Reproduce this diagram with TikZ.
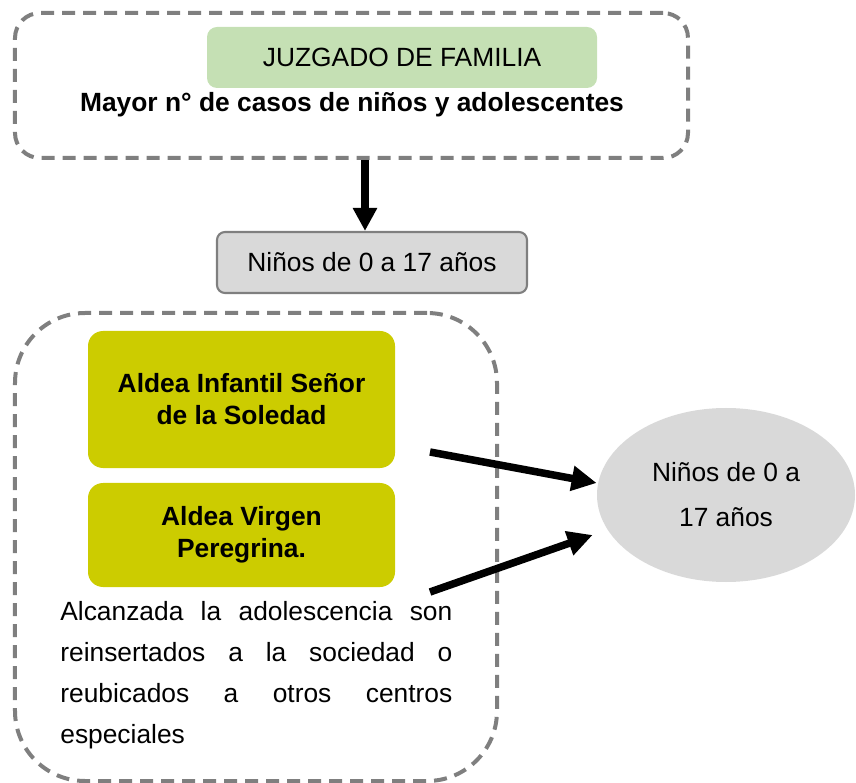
\documentclass[tikz,border=0pt]{standalone}
\usepackage{fontspec}
\setmainfont{Liberation Sans}
\usetikzlibrary{arrows.meta,shapes.geometric}
\definecolor{dashgray}{HTML}{7F7F7F}
\definecolor{juzgreen}{HTML}{C5E0B4}
\definecolor{aldeaolive}{HTML}{CCCC00}
\definecolor{boxgray}{HTML}{D9D9D9}
\hbadness=10000
\tolerance=10000

\begin{document}
\begin{tikzpicture}[
		font=\fontsize{15}{18}\selectfont,
		dashbox/.style={draw=dashgray, line width=0.08cm, dash pattern=on 0.26cm off 0.16cm},
		aldea/.style={fill=aldeaolive, rounded corners=0.3cm, minimum width=6.14cm, align=center, font=\fontsize{15}{18.2}\selectfont\bfseries},
		fatarrow/.style={line width=0.15cm, -{Triangle[length=0.5cm,width=0.48cm]}}
	]
		% Fix the page size
		\useasboundingbox (0,0) rectangle (17.12,15.64);
		
		% Draw the top frame
		\node[dashbox, rounded corners=0.5cm, minimum width=13.46cm, minimum height=2.9cm] (juzgado) at (7.03,13.93) {};
		\node[fill=juzgreen, rounded corners=0.2cm, minimum width=7.8cm, minimum height=1.22cm] (familia) at (8.04,14.49) {JUZGADO DE FAMILIA};
		\node[anchor=base, font=\fontsize{15}{18}\selectfont\bfseries] (mayor) at (7.04,13.4) {Mayor n° de casos de niños y adolescentes};
		
		% Add the age box
		\node[fill=boxgray, draw=dashgray, line width=1.2pt, rounded corners=0.16cm, minimum width=6.2cm, minimum height=1.22cm] (ninos) at (7.44,10.39) {Niños de 0 a 17 años};
		
		% Draw the arrow down
		\draw[line width=0.16cm, -{Triangle[length=0.46cm,width=0.46cm]}] ([xshift=-0.14cm]ninos.north |- juzgado.south) -- ([xshift=-0.14cm]ninos.north);
		
		% Draw the lower frame
		\node[dashbox, rounded corners=1.4cm, minimum width=9.64cm, minimum height=9.36cm] (hogar) at (5.12,4.7) {};
		\node[aldea, minimum height=2.74cm] (soledad) at (4.83,7.65) {Aldea Infantil Señor\\de la Soledad};
		\node[aldea, minimum height=2.08cm] (peregrina) at (4.83,4.94) {Aldea Virgen\\Peregrina.};
		
		% Add the text below
		\node[anchor=base west, text width=7.84cm, align=justify, inner sep=0pt, font=\fontsize{15}{23.5}\selectfont] (texto) at (1.2,3.24) {Alcanzada la adolescencia son\linebreak reinsertados a la sociedad o\linebreak reubicados a otros centros\linebreak especiales};
		
		% Draw the ellipse
		\node[ellipse, fill=boxgray, minimum width=5.16cm, minimum height=3.48cm, align=center, font=\fontsize{15}{25.6}\selectfont] (edad) at (14.52,5.74) {Niños de 0 a\\17 años};
		
		% Draw the arrows to the ellipse
		\coordinate (desde1) at (8.6,6.6);
		\coordinate (desde2) at (8.6,3.8);
		\draw[fatarrow] (desde1) -- ([yshift=0.24cm]edad.west);
		\draw[fatarrow] (desde2) -- ([shift={(-0.08,-0.8)}]edad.west);
	\end{tikzpicture}
\end{document}
